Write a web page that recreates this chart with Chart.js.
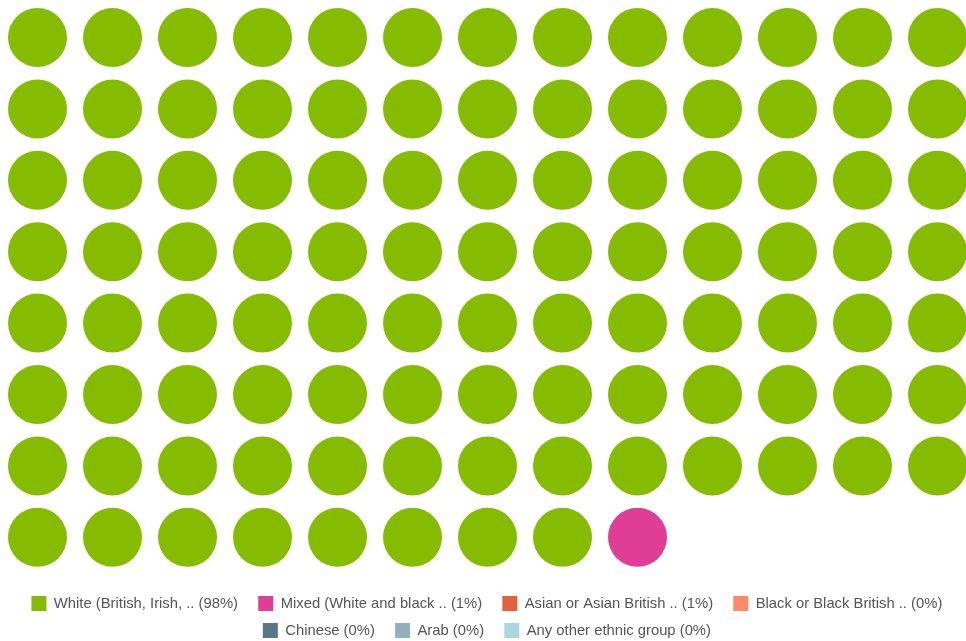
<!DOCTYPE html>
<html>
<head>
<meta charset="utf-8">
<script src="https://cdn.jsdelivr.net/npm/chart.js@4"></script>
<style>
  html, body { margin: 0; padding: 0; background: #fff; }
  #wrap { width: 966px; height: 641px; }
</style>
</head>
<body>
<div id="wrap"><canvas id="waffle"></canvas></div>
<script>
// categories and values
const categories = [
    'White (British, Irish, ..',
    'Mixed (White and black ..',
    'Asian or Asian British ..',
    'Black or Black British ..',
    'Chinese',
    'Arab',
    'Any other ethnic group'
];
const percents = [98, 1, 1, 0, 0, 0, 0];
// number of dots drawn for each category (out of 100)
const dotCounts = [99, 1, 0, 0, 0, 0, 0];
const colors = ['#86bc00', '#e03d97', '#e4613d', '#fc8a66', '#587884', '#93b1bb', '#abd5df'];

const COLS = 13;
const COL_PX = 75;     // spacing of dot columns
const ROW_PX = 71.4;   // spacing of dot rows
const FIRST_PX = 37.5; // center of first dot from the top/left of the canvas
const PAD_LEFT = 16;   // nudges the legend a bit to the right

// waffle: fill dots row by row
let idx = 0;
const datasets = categories.map((cat, i) => {
    const pts = [];
    for (let k = 0; k < dotCounts[i]; k++) {
        pts.push({x: idx % COLS, y: Math.floor(idx / COLS)});
        idx++;
    }
    return {
        label: `${cat} (${percents[i]}%)`,
        data: pts,
        backgroundColor: colors[i],
        borderWidth: 0,
        pointRadius: 29.5,
        pointHoverRadius: 29.5,
        clip: false
    };
});

const ctx = document.getElementById('waffle').getContext('2d');
new Chart(ctx, {
    type: 'scatter',
    data: {datasets: datasets},
    options: {
        responsive: true,
        maintainAspectRatio: false,
        animation: false,
        layout: {autoPadding: false, padding: {left: PAD_LEFT, right: 0, top: 0, bottom: -7}},
        scales: {
            x: {
                display: false,
                bounds: 'data',
                afterDataLimits: (scale) => {
                    scale.min = -(FIRST_PX - PAD_LEFT) / COL_PX;
                    scale.max = scale.min + scale.width / COL_PX;
                }
            },
            y: {
                display: false,
                reverse: true,
                bounds: 'data',
                afterDataLimits: (scale) => {
                    scale.min = -FIRST_PX / ROW_PX;
                    scale.max = scale.min + scale.height / ROW_PX;
                }
            }
        },
        plugins: {
            tooltip: {enabled: false},
            legend: {
                position: 'bottom',
                labels: {
                    boxWidth: 15,
                    boxHeight: 15,
                    padding: 12,
                    color: '#555',
                    font: {family: '"Liberation Sans", Arial, sans-serif', size: 14.8},
                    // a little extra room between the legend items
                    generateLabels: (chart) => Chart.defaults.plugins.legend.labels.generateLabels(chart)
                        .map(item => Object.assign(item, {text: item.text + '  '}))
                }
            }
        }
    }
});
</script>
</body>
</html>
